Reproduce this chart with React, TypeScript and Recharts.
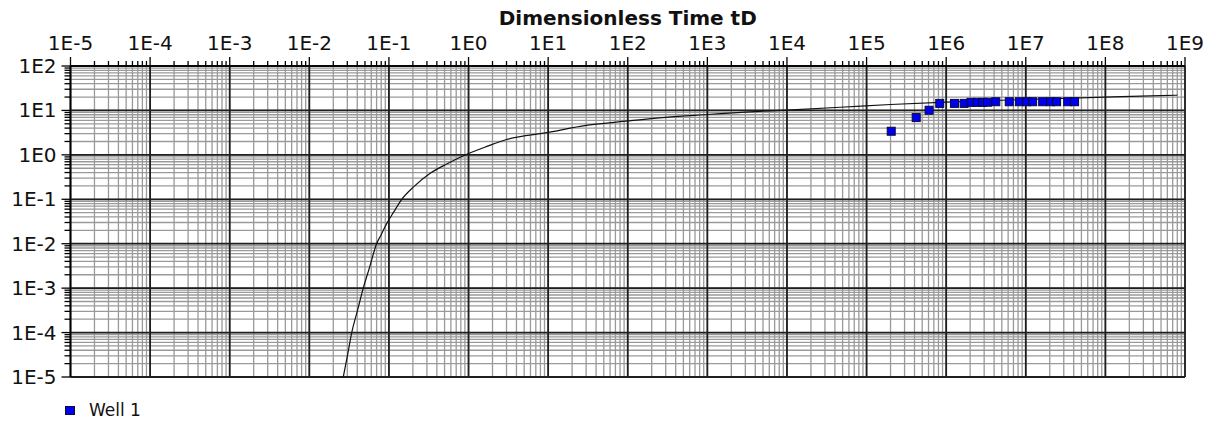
import React from 'react';
import {
  ComposedChart,
  Line,
  Scatter,
  XAxis,
  YAxis,
  CartesianGrid,
  ReferenceLine,
  Legend,
} from 'recharts';

// decade exponents on each axis
const xDecades = [-5, -4, -3, -2, -1, 0, 1, 2, 3, 4, 5, 6, 7, 8, 9];
const yDecades = [-5, -4, -3, -2, -1, 0, 1, 2];
const minorSteps = [2, 3, 4, 5, 6, 7, 8, 9];

// type curve (tD, pD)
const curveT = [
  0.0267, 0.03, 0.0341, 0.04, 0.0476, 0.057, 0.07, 0.08, 0.0933, 0.115, 0.145, 0.204, 0.33,
  0.54, 1, 1.7, 3, 10, 30, 100, 300, 1000, 3000, 1e4, 4.7e4, 2e5, 1e6, 1e7, 7.8e7, 4.9e8, 8e8,
];
const curveP = [
  1e-5, 2.9e-5, 1e-4, 3.0e-4, 1e-3, 2.9e-3, 1e-2, 0.016, 0.028, 0.052, 0.1, 0.19, 0.385,
  0.63, 1.07, 1.55, 2.22, 3.2, 4.6, 5.8, 7.0, 8.1, 9.2, 10.2, 11.8, 13.6, 15.4, 17.6, 19.7, 21.6, 22.0,
];

// Well 1 measured points
const wellT = [
  2.04e5, 4.2e5, 6.1e5, 8.3e5, 1.27e6, 1.68e6, 2.05e6, 2.46e6, 2.87e6, 3.3e6,
  4.2e6, 6.2e6, 8.3e6, 1.03e7, 1.22e7, 1.63e7, 2.05e7, 2.44e7, 3.36e7, 4.1e7,
];
const wellP = [
  3.4, 6.9, 10.1, 14.4, 14.4, 14.4, 15.2, 15.2, 15.2, 15.3,
  15.7, 15.7, 15.7, 15.7, 15.7, 15.7, 15.7, 15.7, 15.7, 15.7,
];

const curveData = curveT.map((t, i) => ({ t, p: curveP[i] }));
const wellData = wellT.map((t, i) => ({ t, p: wellP[i] }));

const buildTicks = (decades: number[]) => {
  const out: number[] = [];
  decades.forEach((d, i) => {
    out.push(Math.pow(10, d));
    if (i < decades.length - 1) minorSteps.forEach(m => out.push(m * Math.pow(10, d)));
  });
  return out;
};

const xTicks = buildTicks(xDecades);
const yTicks = buildTicks(yDecades);

const isDecade = (v: number) => {
  const l = Math.log10(v);
  return Math.abs(l - Math.round(l)) < 1e-6;
};
const fmt = (v: number) => `1E${Math.round(Math.log10(v))}`;

const FONT = '"DejaVu Sans", Verdana, sans-serif';

const XTick = (props: any) => {
  const { x, y, payload } = props;
  const major = isDecade(payload.value);
  return (
    <g>
      <line x1={x} y1={y} x2={x} y2={y - (major ? 9 : 5)} stroke="#000" strokeWidth={1.3} />
      {major && (
        <text x={x} y={y - 16} textAnchor="middle" fontSize={20} fontFamily={FONT} fill="#111">
          {fmt(payload.value)}
        </text>
      )}
    </g>
  );
};

const YTick = (props: any) => {
  const { x, y, payload } = props;
  const major = isDecade(payload.value);
  return (
    <g>
      <line x1={x} y1={y} x2={x - (major ? 9 : 6)} y2={y} stroke="#000" strokeWidth={1.3} />
      {major && (
        <text x={x - 14} y={y} dy={7} textAnchor="end" fontSize={20} fontFamily={FONT} fill="#111">
          {fmt(payload.value)}
        </text>
      )}
    </g>
  );
};

const SquareDot = (props: any) => {
  const { cx, cy } = props;
  if (cx == null || cy == null) return null;
  return <rect x={cx - 4} y={cy - 4} width={8} height={8} fill="#0000ee" stroke="#0a0a3a" strokeWidth={1} />;
};

const LegendBox = () => (
  <div style={{ height: 20, display: 'flex', alignItems: 'center', paddingLeft: 65, fontFamily: FONT, fontSize: 17, color: '#111' }}>
    <span style={{ display: 'inline-block', width: 8, height: 7, background: '#0000ee', border: '1px solid #0a0a3a', marginRight: 14 }} />
    Well 1
  </div>
);

export default function App() {
  return (
    <div style={{ margin: -8 }}>
      <ComposedChart
        width={1216}
        height={425}
        margin={{ top: 26, right: 31, bottom: 28, left: 15.5 }}
      >
        <CartesianGrid stroke="#9a9a9a" strokeWidth={1.3} />
        <XAxis
          dataKey="t"
          type="number"
          scale="log"
          domain={[1e-5, 1e9]}
          allowDataOverflow
          orientation="top"
          ticks={xTicks}
          interval={0}
          height={40}
          tickSize={0}
          tickMargin={0}
          tick={<XTick />}
          axisLine={{ stroke: '#000', strokeWidth: 1.6 }}
          label={{
            value: 'Dimensionless Time tD',
            position: 'top',
            offset: 1,
            style: { fontFamily: FONT, fontSize: 20, fontWeight: 'bold', fill: '#111' },
          }}
        />
        <YAxis
          dataKey="p"
          type="number"
          scale="log"
          domain={[1e-5, 100]}
          allowDataOverflow
          ticks={yTicks}
          interval={0}
          width={55}
          tickSize={0}
          tickMargin={0}
          tick={<YTick />}
          axisLine={{ stroke: '#000', strokeWidth: 1.6 }}
        />
        {xDecades.map(d => (
          <ReferenceLine key={`vx${d}`} x={Math.pow(10, d)} stroke="#1e1e1e" strokeWidth={1.8} />
        ))}
        {yDecades.map(d => (
          <ReferenceLine key={`hy${d}`} y={Math.pow(10, d)} stroke="#1e1e1e" strokeWidth={1.8} />
        ))}
        <Line
          data={curveData}
          dataKey="p"
          type="monotone"
          stroke="#111"
          strokeWidth={1.2}
          dot={false}
          isAnimationActive={false}
          legendType="none"
        />
        <Scatter
          data={wellData}
          dataKey="p"
          name="Well 1"
          shape={<SquareDot />}
          isAnimationActive={false}
        />
        <Legend
          verticalAlign="bottom"
          align="left"
          content={<LegendBox />}
          wrapperStyle={{ top: 400, left: 0, width: 300 }}
        />
      </ComposedChart>
    </div>
  );
}
